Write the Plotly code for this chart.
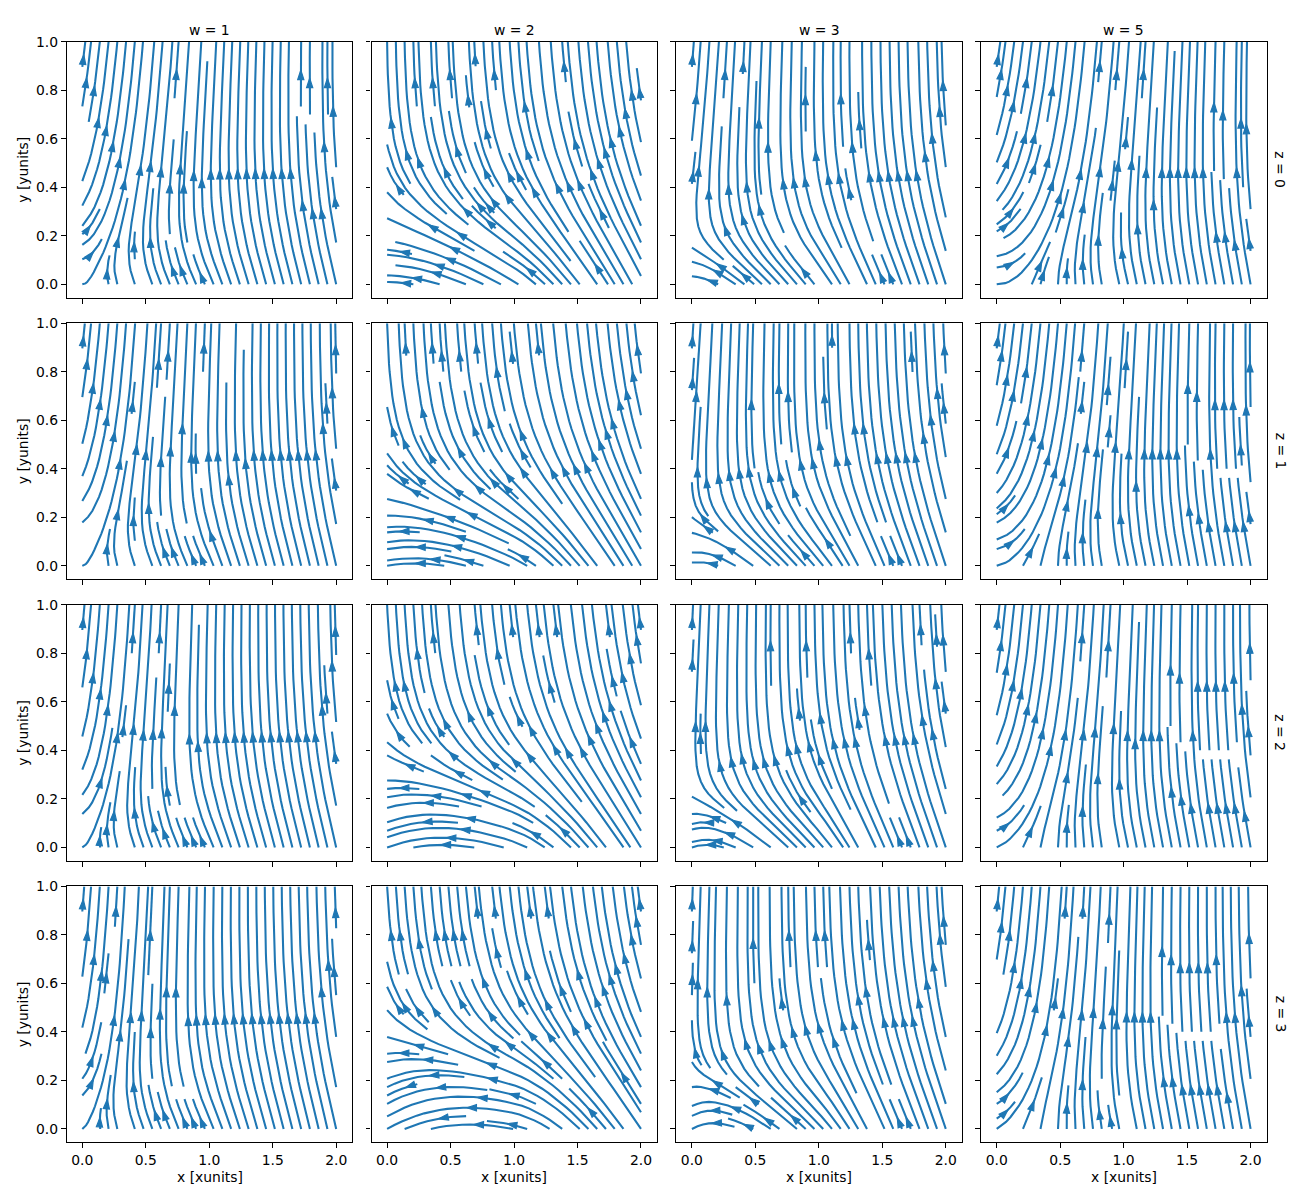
import math
import numpy as np
import plotly.graph_objects as go

# ---------------- data ----------------
x_coords = [0.0, 1.0, 2.0]
y_coords = [0.0, 0.1, 0.2, 0.3, 0.4, 0.5, 0.6, 0.7, 0.8, 0.9, 1.0]
z_values = [0, 1, 2, 3]
w_labels = [1, 2, 3, 5]
w_offsets = [0.01, -0.22, -0.06, 0.05]   # estimated per-column offsets


def field(z, w):
    xg, yg = np.meshgrid(np.array(x_coords), np.array(y_coords))
    A = -0.1 * xg + yg / (5 + z) + w
    B = 0.1 * xg ** 2 + yg ** 2.5 + 0.1 * z * w
    return A, B


class _OOB(Exception):
    pass


class _Term(Exception):
    pass


class _Inv(Exception):
    pass


def streamplot(x, y, u, v, density=1.0, minlength=0.1, maxlength=4.0):
    x = np.asarray(x, float); y = np.asarray(y, float)
    nx, ny = len(x), len(y)
    dx = x[1] - x[0]; dy = y[1] - y[0]
    mnx = mny = int(30 * density)
    mask = np.zeros((mny, mnx))
    xg2m = (mnx - 1) / (nx - 1); yg2m = (mny - 1) / (ny - 1)
    xm2g = 1.0 / xg2m; ym2g = 1.0 / yg2m
    xd2g = 1.0 / dx; yd2g = 1.0 / dy
    st = {'traj': [], 'cur': None}

    def within(xi, yi):
        return 0 <= xi <= nx - 1 and 0 <= yi <= ny - 1

    def g2m(xi, yi):
        return round(xi * xg2m), round(yi * yg2m)

    def m_update(xm, ym):
        if st['cur'] != (xm, ym):
            if mask[ym, xm] == 0:
                st['traj'].append((ym, xm))
                mask[ym, xm] = 1
                st['cur'] = (xm, ym)
            else:
                raise _Inv

    def d_start(xg, yg):
        xm, ym = g2m(xg, yg)
        st['traj'] = []
        m_update(xm, ym)

    def d_update(xg, yg):
        if not within(xg, yg):
            raise _Inv
        xm, ym = g2m(xg, yg)
        m_update(xm, ym)

    ug = np.asarray(u, float) * xd2g
    vg = np.asarray(v, float) * yd2g
    speed = np.sqrt((ug / (nx - 1)) ** 2 + (vg / (ny - 1)) ** 2)

    def interp(a, xi, yi):
        Ny, Nx = a.shape
        xx = int(xi); yy = int(yi)
        xn = xx if xx == Nx - 1 else xx + 1
        yn = yy if yy == Ny - 1 else yy + 1
        xt = xi - xx; yt = yi - yy
        a0 = a[yy, xx] * (1 - xt) + a[yy, xn] * xt
        a1 = a[yn, xx] * (1 - xt) + a[yn, xn] * xt
        return a0 * (1 - yt) + a1 * yt

    def fwd(xi, yi):
        if not within(xi, yi):
            raise _OOB
        ds_dt = interp(speed, xi, yi)
        if ds_dt == 0:
            raise _Term
        dt_ds = 1.0 / ds_dt
        return interp(ug, xi, yi) * dt_ds, interp(vg, xi, yi) * dt_ds

    def bwd(xi, yi):
        a, b = fwd(xi, yi)
        return -a, -b

    def euler(traj, f):
        xi, yi = traj[-1]
        cx, cy = f(xi, yi)
        if cx == 0:
            dsx = np.inf
        elif cx < 0:
            dsx = xi / -cx
        else:
            dsx = (nx - 1 - xi) / cx
        if cy == 0:
            dsy = np.inf
        elif cy < 0:
            dsy = yi / -cy
        else:
            dsy = (ny - 1 - yi) / cy
        ds = min(dsx, dsy)
        traj.append((xi + cx * ds, yi + cy * ds))
        return ds, traj

    def rk12(x0, y0, f):
        maxerror = 0.003
        maxds = min(1.0 / mnx, 1.0 / mny, 0.1)
        ds = maxds; stotal = 0.0
        xi, yi = x0, y0
        traj = []
        while True:
            try:
                if within(xi, yi):
                    traj.append((xi, yi))
                else:
                    raise _OOB
                k1x, k1y = f(xi, yi)
                k2x, k2y = f(xi + ds * k1x, yi + ds * k1y)
            except _OOB:
                if traj:
                    ds2, traj = euler(traj, f)
                    stotal += ds2
                break
            except _Term:
                break
            dx1 = ds * k1x; dy1 = ds * k1y
            dx2 = ds * 0.5 * (k1x + k2x); dy2 = ds * 0.5 * (k1y + k2y)
            err = math.hypot((dx2 - dx1) / (nx - 1), (dy2 - dy1) / (ny - 1))
            if err < maxerror:
                xi += dx2; yi += dy2
                try:
                    d_update(xi, yi)
                except _Inv:
                    break
                if stotal + ds > maxlength:
                    break
                stotal += ds
            if err == 0:
                ds = maxds
            else:
                ds = min(maxds, 0.85 * ds * (maxerror / err) ** 0.5)
        return stotal, traj

    def integrate(x0, y0):
        stotal = 0.0; xy = []
        try:
            d_start(x0, y0)
        except _Inv:
            return None
        s, t = rk12(x0, y0, bwd)
        stotal += s; xy += t[::-1]
        st['cur'] = g2m(x0, y0)
        s, t = rk12(x0, y0, fwd)
        stotal += s; xy += t[1:]
        if stotal > minlength:
            return np.array(xy)
        for cell in st['traj']:
            mask[cell] = 0
        return None

    def gen_start():
        xfirst, yfirst = 0, 1
        xlast, ylast = mnx - 1, mny - 1
        xx, yy = 0, 0
        direction = 'right'
        for _ in range(mnx * mny):
            yield xx, yy
            if direction == 'right':
                xx += 1
                if xx >= xlast:
                    xlast -= 1; direction = 'up'
            elif direction == 'up':
                yy += 1
                if yy >= ylast:
                    ylast -= 1; direction = 'left'
            elif direction == 'left':
                xx -= 1
                if xx <= xfirst:
                    xfirst += 1; direction = 'down'
            elif direction == 'down':
                yy -= 1
                if yy <= yfirst:
                    yfirst += 1; direction = 'right'

    trajs = []
    for xm, ym in gen_start():
        if mask[ym, xm] == 0:
            t = integrate(xm * xm2g, ym * ym2g)
            if t is not None:
                trajs.append(t)

    lines = []
    arrows = []
    for t in trajs:
        tx = t[:, 0] / xd2g + x[0]
        ty = t[:, 1] / yd2g + y[0]
        lines.append((tx, ty))
        s = np.cumsum(np.hypot(np.diff(tx), np.diff(ty)))
        n = int(np.searchsorted(s, s[-1] / 2.0))
        tail = (tx[n], ty[n])
        head = (np.mean(tx[n:n + 2]), np.mean(ty[n:n + 2]))
        arrows.append((tail, head))
    return lines, arrows


# ---------------- layout ----------------
W, H = 1300, 1200
col_left = [66.7, 371.5, 676.3, 981.1]
panel_w = 285.6
row_top = [34.0, 317.4, 600.9, 884.3]
panel_h = 257.6
X_RANGE = [-0.123, 2.127]
Y_RANGE = [-0.055, 1.0]
C = '#1f77b4'
FONT = 'DejaVu Sans'
FS = 13.9
pxx = panel_w / (X_RANGE[1] - X_RANGE[0])
pxy = panel_h / (Y_RANGE[1] - Y_RANGE[0])

axis_style = dict(showline=True, mirror=True, linecolor='black', linewidth=1.1,
                  ticks='outside', ticklen=4.9, tickwidth=1.1, tickcolor='black',
                  showgrid=False, zeroline=False,
                  tickfont=dict(family=FONT, size=FS, color='black'))

fig = go.Figure()
layout = {}
ann = []
for r, z in enumerate(z_values):
    for c, w in enumerate(w_offsets):
        k = r * 4 + c + 1
        sfx = '' if k == 1 else str(k)
        layout['xaxis' + sfx] = dict(domain=[col_left[c] / W, (col_left[c] + panel_w) / W],
                                     range=X_RANGE, anchor='y' + sfx,
                                     tickvals=[0, 0.5, 1, 1.5, 2],
                                     ticktext=['0.0', '0.5', '1.0', '1.5', '2.0'],
                                     showticklabels=(r == 3), **axis_style)
        layout['yaxis' + sfx] = dict(domain=[1 - (row_top[r] + panel_h) / H, 1 - row_top[r] / H],
                                     range=Y_RANGE, anchor='x' + sfx,
                                     tickvals=[0, 0.2, 0.4, 0.6, 0.8, 1.0],
                                     ticktext=['0.0', '0.2', '0.4', '0.6', '0.8', '1.0'],
                                     showticklabels=(c == 0), **axis_style)
        A, B = field(z, w)
        lines, arrows = streamplot(x_coords, y_coords, A, B)
        lx, ly = [], []
        for tx, ty in lines:
            lx += list(tx) + [None]
            ly += list(ty) + [None]
        fig.add_trace(go.Scatter(x=lx, y=ly, mode='lines', line=dict(color=C, width=2.08),
                                 xaxis='x' + sfx, yaxis='y' + sfx, hoverinfo='skip',
                                 showlegend=False))
        axx, axy, ang = [], [], []
        for (tl, hd) in arrows:
            axx.append(hd[0]); axy.append(hd[1])
            ang.append(math.degrees(math.atan2((hd[0] - tl[0]) * pxx, (hd[1] - tl[1]) * pxy)))
        fig.add_trace(go.Scatter(x=axx, y=axy, mode='markers',
                                 marker=dict(symbol='arrow', size=10, angle=ang, color=C,
                                             line=dict(width=1.2, color=C)),
                                 xaxis='x' + sfx, yaxis='y' + sfx, hoverinfo='skip',
                                 showlegend=False))

txtfont = dict(family=FONT, size=FS, color='black')
for c, wl in enumerate(w_labels):
    ann.append(dict(text='w = %d' % wl, x=(col_left[c] + panel_w / 2) / W, y=1 - 21.7 / H,
                    xref='paper', yref='paper', xanchor='center', yanchor='middle',
                    showarrow=False, font=txtfont))
    ann.append(dict(text='x [xunits]', x=(col_left[c] + panel_w / 2) / W, y=1 - 1177.0 / H,
                    xref='paper', yref='paper', xanchor='center', yanchor='middle',
                    showarrow=False, font=txtfont))
for r, z in enumerate(z_values):
    ann.append(dict(text='z = %d' % z, x=1280.5 / W, y=1 - (row_top[r] + panel_h / 2) / H,
                    xref='paper', yref='paper', xanchor='center', yanchor='middle',
                    textangle=90, showarrow=False, font=txtfont))
    ann.append(dict(text='y [yunits]', x=23.0 / W, y=1 - (row_top[r] + panel_h / 2) / H,
                    xref='paper', yref='paper', xanchor='center', yanchor='middle',
                    textangle=-90, showarrow=False, font=txtfont))

fig.update_layout(width=W, height=H, margin=dict(l=0, r=0, t=0, b=0),
                  plot_bgcolor='white', paper_bgcolor='white', annotations=ann, **layout)
fig.write_html('out.html')
